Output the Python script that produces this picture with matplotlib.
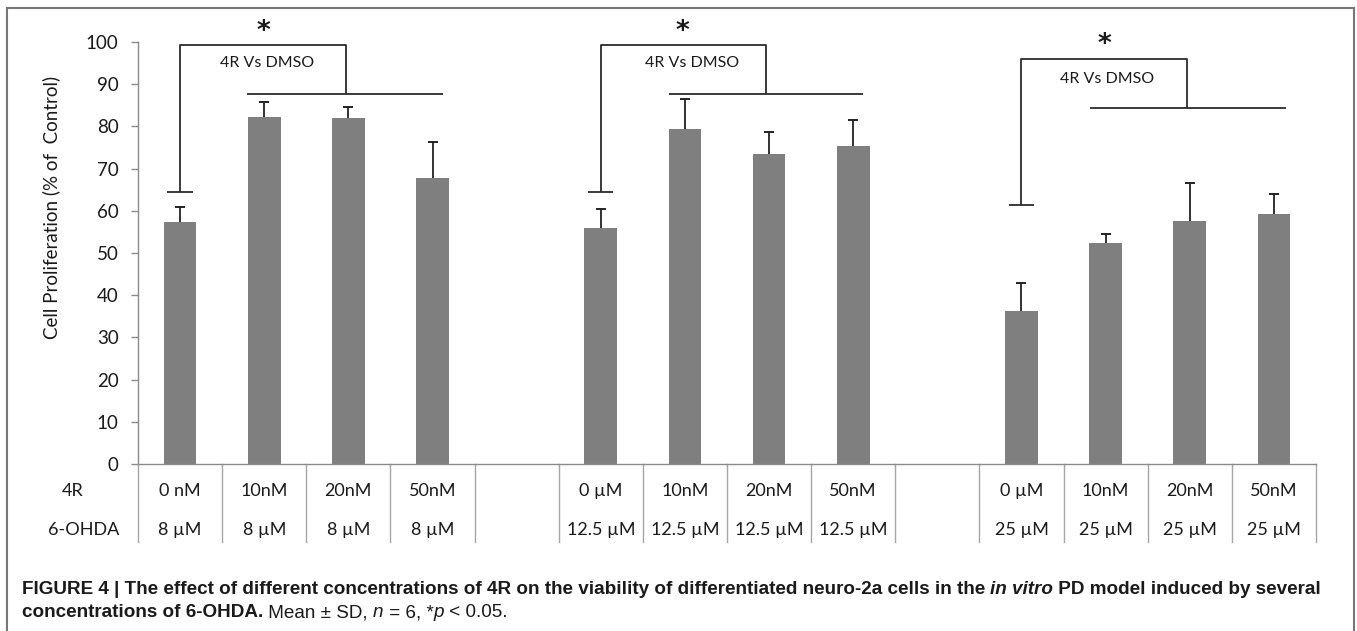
import numpy as np
import matplotlib
matplotlib.use("Agg")
import matplotlib.pyplot as plt
from matplotlib import font_manager
from matplotlib.lines import Line2D

# ── data ──────────────────────────────────────────────────────────────────────
dose_4r   = ["0 nM", "10nM", "20nM", "50nM", "",
             "0 µM", "10nM", "20nM", "50nM", "",
             "0 µM", "10nM", "20nM", "50nM"]
dose_ohda = ["8 µM", "8 µM", "8 µM", "8 µM", "",
             "12.5 µM", "12.5 µM", "12.5 µM", "12.5 µM", "",
             "25 µM", "25 µM", "25 µM", "25 µM"]
prolif    = [57.4, 82.3, 81.9, 67.8, np.nan,
             55.9, 79.4, 73.5, 75.4, np.nan,
             36.3, 52.3, 57.7, 59.2]
sd        = [3.4, 3.6, 2.8, 8.6, np.nan,
             4.6, 7.1, 5.1, 6.1, np.nan,
             6.5, 2.2, 9.0, 4.7]

# significance brackets: (control slot, right drop x, cap y, top y, bar y, bar x0, bar x1)
brackets = [
    (0,  1.97, 64.5, 99.3, 87.6, 0.80, 3.13),
    (5,  6.96, 64.5, 99.3, 87.7, 5.81, 8.12),
    (10, 11.97, 61.3, 96.0, 84.4, 10.82, 13.14),
]
star_pos  = [(0.99, 102.3), (5.97, 102.3), (10.99, 99.4)]
label_pos = [(1.03, 95.1), (6.09, 95.1), (11.02, 91.2)]

BAR_C  = "#7f7f7f"
AXIS_C = "#8a8a8a"
GRID_C = "#a6a6a6"
TXT_C  = "#1a1a1a"
CHART_FONT = ["Lato", "DejaVu Sans"]

W, H = 1357, 631
fig = plt.figure(figsize=(W / 100, H / 100), dpi=100)
fig.patch.set_facecolor("white")

ax = fig.add_axes([138 / W, 1 - 464 / H, 1178 / W, 422 / H])
x = np.arange(len(prolif))
vals = np.array(prolif)
errs = np.array(sd)
ok = ~np.isnan(vals)

ax.bar(x[ok], vals[ok], width=0.39, color=BAR_C, zorder=2)
# upper-only error bars: stem + cap at the top
ax.vlines(x[ok], vals[ok], vals[ok] + errs[ok], color="#222222", lw=1.3, zorder=3)
ax.plot(x[ok], vals[ok] + errs[ok], ls="none", marker="_", markersize=6.5,
        markeredgewidth=1.4, color="#222222", zorder=3)

ax.set_xlim(-0.5, len(prolif) - 0.5)
ax.set_ylim(0, 100)
ax.set_yticks(range(0, 101, 10))
ax.set_xticks([])
for s in ["top", "right"]:
    ax.spines[s].set_visible(False)
for s in ["left", "bottom"]:
    ax.spines[s].set_color(AXIS_C)
    ax.spines[s].set_linewidth(1.0)
ax.tick_params(axis="y", direction="out", length=5, width=1.0, color=AXIS_C,
               labelsize=13.5, labelcolor=TXT_C, pad=9)
for lbl in ax.get_yticklabels():
    lbl.set_family(CHART_FONT)
fig.text(51 / W, 1 - 207 / H, "Cell Proliferation (% of  Control)", rotation=90,
         ha="center", va="center", fontsize=13.5, color=TXT_C, family=CHART_FONT)

# data table under the axis
for k in range(len(prolif) + 1):
    ax.plot([k - 0.5, k - 0.5], [0, -18.5], color=GRID_C, lw=1.0, clip_on=False)
for k, (a, b) in enumerate(zip(dose_4r, dose_ohda)):
    ax.text(k, -6.4, a, ha="center", va="center", fontsize=13, color=TXT_C,
            family=CHART_FONT, clip_on=False)
    ax.text(k, -15.6, b, ha="center", va="center", fontsize=13, color=TXT_C,
            family=CHART_FONT, clip_on=False)
fig.text(73 / W, 1 - 491 / H, "4R", ha="center", va="center", fontsize=13,
         color=TXT_C, family=CHART_FONT)
fig.text(84 / W, 1 - 530 / H, "6-OHDA", ha="center", va="center", fontsize=13,
         color=TXT_C, family=CHART_FONT)

# brackets
for (c, xr, ycap, ytop, ybar, bx0, bx1), (sx, sy), (lx, ly) in zip(brackets, star_pos, label_pos):
    kw = dict(color="#2b2b2b", lw=1.3, clip_on=False, solid_capstyle="butt")
    ax.plot([c - 0.15, c + 0.15], [ycap, ycap], **kw)
    ax.plot([c, c, xr, xr], [ycap, ytop, ytop, ybar], **kw)
    ax.plot([bx0, bx1], [ybar, ybar], **kw)
    ax.text(sx, sy, "*", ha="center", va="center", fontsize=19, fontweight="bold",
            color=TXT_C, family="DejaVu Sans", clip_on=False)
    ax.text(lx, ly, "4R Vs DMSO", ha="center", va="center", fontsize=11.5,
            color=TXT_C, family=CHART_FONT, clip_on=False)

# outer frame (open at the bottom)
frame = dict(transform=fig.transFigure, color="#777777", lw=1.5)
fig.add_artist(Line2D([7 / W, 7 / W], [0, 1 - 8 / H], **frame))
fig.add_artist(Line2D([7 / W, 1354 / W], [1 - 8 / H, 1 - 8 / H], **frame))
fig.add_artist(Line2D([1354 / W, 1354 / W], [0, 1 - 8 / H], **frame))

# caption
names = {f.name for f in font_manager.fontManager.ttflist}
cap_font = "Liberation Sans Narrow" if "Liberation Sans Narrow" in names else "Liberation Sans"
renderer = fig.canvas.get_renderer()


def draw_parts(parts, x0, y, size):
    xx = x0
    for txt, wt, st in parts:
        tt = fig.text(xx / W, 1 - y / H, txt, fontsize=size, fontweight=wt, style=st,
                      family=cap_font, color=TXT_C)
        xx = tt.get_window_extent(renderer).x1
    return xx


def parts_width(parts, size):
    tmp = []
    xx = 0
    for txt, wt, st in parts:
        tt = fig.text(xx / W, 0.5, txt, fontsize=size, fontweight=wt, style=st,
                      family=cap_font)
        xx = tt.get_window_extent(renderer).x1
        tmp.append(tt)
    for tt in tmp:
        tt.remove()
    return xx


parts1 = [("FIGURE 4 | The effect of different concentrations of 4R on the viability of "
           "differentiated neuro-2a cells in the ", "bold", "normal"),
          ("in vitro", "bold", "italic"),
          (" PD model induced by several", "bold", "normal")]
parts2 = [("concentrations of 6-OHDA.", "bold", "normal"),
          (" Mean ± SD, ", "normal", "normal"), ("n", "normal", "italic"),
          (" = 6, *", "normal", "normal"), ("p", "normal", "italic"),
          (" < 0.05.", "normal", "normal")]
size = 11 * (1320 - 22) / parts_width(parts1, 11)
draw_parts(parts1, 22, 594, size)
draw_parts(parts2, 22, 617, size)

fig.savefig("out.png", dpi=100)
